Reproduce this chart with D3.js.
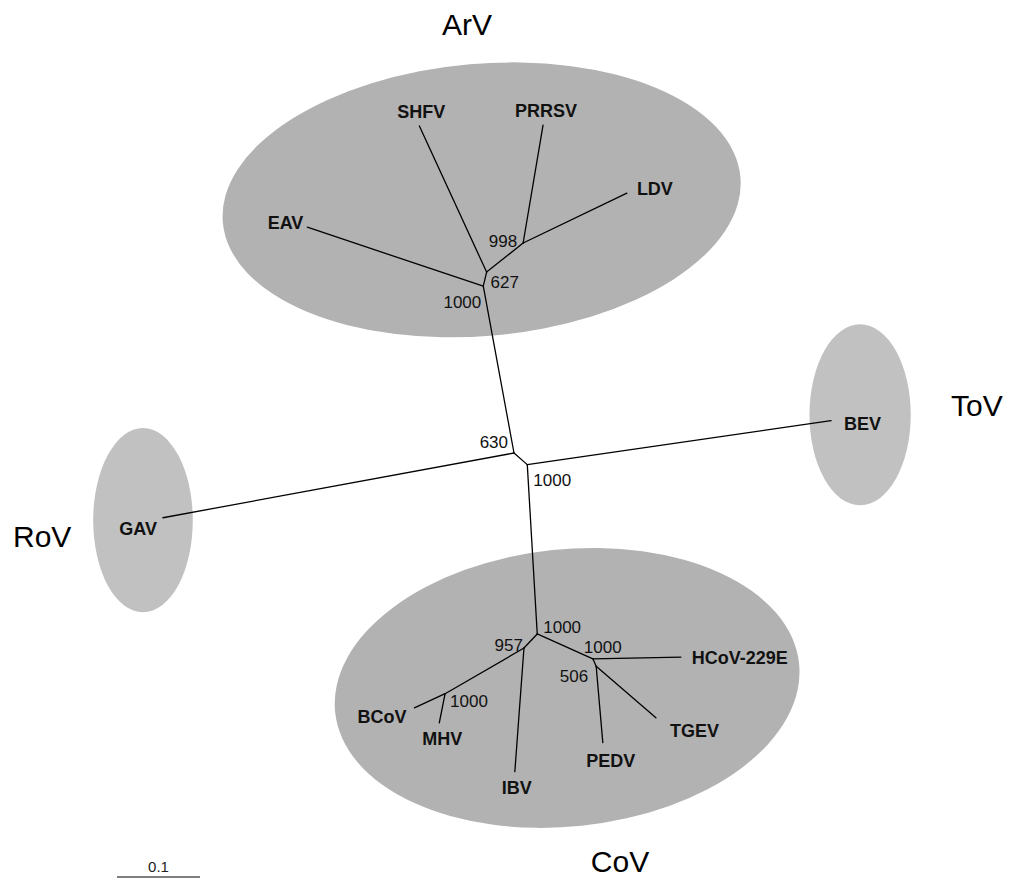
<!DOCTYPE html>
<html>
<head>
<meta charset="utf-8">
<script src="https://cdn.jsdelivr.net/npm/d3@7"></script>
<style>
  body { margin: 0; background: #fff; }
  svg { display: block; font-family: "Liberation Sans", Arial, Helvetica, sans-serif; }
</style>
</head>
<body>
<div id="tree"></div>
<script>
// tree nodes (unrooted layout, branch-length units, origin at node 630)
const nodeIds    = ["n630", "n1000a", "nArV", "n627", "n998", "EAV", "SHFV", "PRRSV", "LDV", "GAV", "BEV",
                    "nCoV", "n957", "nR", "n506", "nMHV", "BCoV", "MHV", "IBV", "HCoV-229E", "PEDV", "TGEV"];
const nodeParent = [null, "n630", "n630", "nArV", "n627", "nArV", "n627", "n998", "n998", "n630", "n1000a",
                    "n1000a", "nCoV", "nCoV", "nR", "n957", "nMHV", "nMHV", "n957", "nR", "n506", "n506"];
const nodeX = [0, 0.016, -0.037, -0.033, 0.011, -0.249, -0.114, 0.035, 0.136, -0.423, 0.382,
               0.028, 0.012, 0.095, 0.099, -0.083, -0.120, -0.090, 0.001, 0.201, 0.107, 0.171];
const nodeY = [0, 0.014, -0.201, -0.218, -0.253, -0.272, -0.394, -0.395, -0.313, 0.078, -0.039,
               0.218, 0.235, 0.248, 0.257, 0.290, 0.307, 0.325, 0.384, 0.246, 0.349, 0.319];

// bootstrap support (of 1000)
const bootNodes  = ["n998", "n627", "nArV", "n630", "n1000a", "nCoV", "n957", "nR", "n506", "nMHV"];
const bootValues = [998, 627, 1000, 630, 1000, 1000, 957, 1000, 506, 1000];

// groups
const cladeNames = ["ArV", "RoV", "ToV", "CoV"];
const scaleBarValue = 0.1;

// layout / styling (not data)
const W = 1010, H = 878;
const pxPerUnit = 830;
const origin = [514, 453];

const x = d3.scaleLinear().domain([0, 1]).range([origin[0], origin[0] + pxPerUnit]);
const y = d3.scaleLinear().domain([0, 1]).range([origin[1], origin[1] + pxPerUnit]);

// clade ellipses in tree units
const cladeShapes = [
  { cx: -0.039, cy: -0.305, rx: 0.313, ry: 0.164, rot: -5, fill: "#b2b2b2" },
  { cx: -0.447, cy: 0.081,  rx: 0.060, ry: 0.111, rot: 0,  fill: "#c1c1c1" },
  { cx: 0.417,  cy: -0.046, rx: 0.061, ry: 0.109, rot: 0,  fill: "#c1c1c1" },
  { cx: 0.064,  cy: 0.283,  rx: 0.281, ry: 0.167, rot: -6, fill: "#b2b2b2" }
];
const cladeLabelPos = [
  { x: 467, y: 35,  anchor: "middle" },
  { x: 13,  y: 547, anchor: "start" },
  { x: 951, y: 416, anchor: "start" },
  { x: 620, y: 872, anchor: "middle" }
];

// label placement relative to leaf tip
const leafLabel = {
  "EAV":       { anchor: "end",    dx: -4,  dy: 2 },
  "SHFV":      { anchor: "middle", dx: 2,   dy: -8 },
  "PRRSV":     { anchor: "middle", dx: 3,   dy: -8 },
  "LDV":       { anchor: "start",  dx: 10,  dy: 2 },
  "GAV":       { anchor: "end",    dx: -6,  dy: 17 },
  "BEV":       { anchor: "start",  dx: 13,  dy: 9 },
  "BCoV":      { anchor: "end",    dx: -8,  dy: 15 },
  "MHV":       { anchor: "middle", dx: 3,   dy: 22 },
  "IBV":       { anchor: "middle", dx: 2,   dy: 22 },
  "HCoV-229E": { anchor: "start",  dx: 11,  dy: 7 },
  "PEDV":      { anchor: "middle", dx: 8,   dy: 24 },
  "TGEV":      { anchor: "start",  dx: 14,  dy: 19 }
};
const bootLabel = {
  "n998":   { anchor: "end",   dx: -6, dy: 4 },
  "n627":   { anchor: "start", dx: 4,  dy: 16 },
  "nArV":   { anchor: "end",   dx: -2, dy: 22 },
  "n630":   { anchor: "end",   dx: -6, dy: -5 },
  "n1000a": { anchor: "start", dx: 6,  dy: 21 },
  "nCoV":   { anchor: "start", dx: 6,  dy: -1 },
  "n957":   { anchor: "end",   dx: -1, dy: 3 },
  "nR":     { anchor: "start", dx: -9, dy: -6 },
  "n506":   { anchor: "end",   dx: -8, dy: 16 },
  "nMHV":   { anchor: "start", dx: 5,  dy: 13 }
};

const nodes = nodeIds.map((id, i) => ({ id, parent: nodeParent[i], x: nodeX[i], y: nodeY[i] }));
const byId = new Map(nodes.map(d => [d.id, d]));
const edges = nodes.filter(d => d.parent).map(d => ({ source: byId.get(d.parent), target: d }));
const leaves = nodes.filter(d => !nodes.some(n => n.parent === d.id));

const svg = d3.select("#tree").append("svg")
  .attr("width", W)
  .attr("height", H);

// clade ellipses
svg.append("g").selectAll("ellipse")
  .data(cladeShapes)
  .enter()
  .append("ellipse")
  .attr("cx", d => x(d.cx))
  .attr("cy", d => y(d.cy))
  .attr("rx", d => x(d.rx) - x(0))
  .attr("ry", d => y(d.ry) - y(0))
  .attr("transform", d => `rotate(${d.rot}, ${x(d.cx)}, ${y(d.cy)})`)
  .attr("fill", d => d.fill);

// branches
svg.append("g").selectAll("line")
  .data(edges)
  .enter()
  .append("line")
  .attr("x1", d => x(d.source.x))
  .attr("y1", d => y(d.source.y))
  .attr("x2", d => x(d.target.x))
  .attr("y2", d => y(d.target.y))
  .attr("stroke", "#000")
  .attr("stroke-width", 1.3)
  .attr("stroke-linecap", "round");

// leaf names
svg.append("g").selectAll("text")
  .data(leaves)
  .enter()
  .append("text")
  .attr("x", d => x(d.x) + leafLabel[d.id].dx)
  .attr("y", d => y(d.y) + leafLabel[d.id].dy)
  .attr("text-anchor", d => leafLabel[d.id].anchor)
  .attr("font-size", 18)
  .attr("font-weight", 700)
  .attr("fill", "#111")
  .text(d => d.id);

// bootstrap values
svg.append("g").selectAll("text")
  .data(bootNodes)
  .enter()
  .append("text")
  .attr("x", d => x(byId.get(d).x) + bootLabel[d].dx)
  .attr("y", d => y(byId.get(d).y) + bootLabel[d].dy)
  .attr("text-anchor", d => bootLabel[d].anchor)
  .attr("font-size", 17)
  .attr("fill", "#111")
  .text((d, i) => bootValues[i]);

// clade names
svg.append("g").selectAll("text")
  .data(cladeNames)
  .enter()
  .append("text")
  .attr("x", (d, i) => cladeLabelPos[i].x)
  .attr("y", (d, i) => cladeLabelPos[i].y)
  .attr("text-anchor", (d, i) => cladeLabelPos[i].anchor)
  .attr("font-size", 30)
  .attr("fill", "#000")
  .text(d => d);

// scale bar
const barX = 117, barY = 877;
svg.append("line")
  .attr("x1", barX)
  .attr("x2", barX + x(scaleBarValue) - x(0))
  .attr("y1", barY)
  .attr("y2", barY)
  .attr("stroke", "#000")
  .attr("stroke-width", 1.2);
svg.append("text")
  .attr("x", barX + (x(scaleBarValue) - x(0)) / 2)
  .attr("y", barY - 5)
  .attr("text-anchor", "middle")
  .attr("font-size", 15)
  .attr("fill", "#222")
  .text(scaleBarValue);
</script>
</body>
</html>
